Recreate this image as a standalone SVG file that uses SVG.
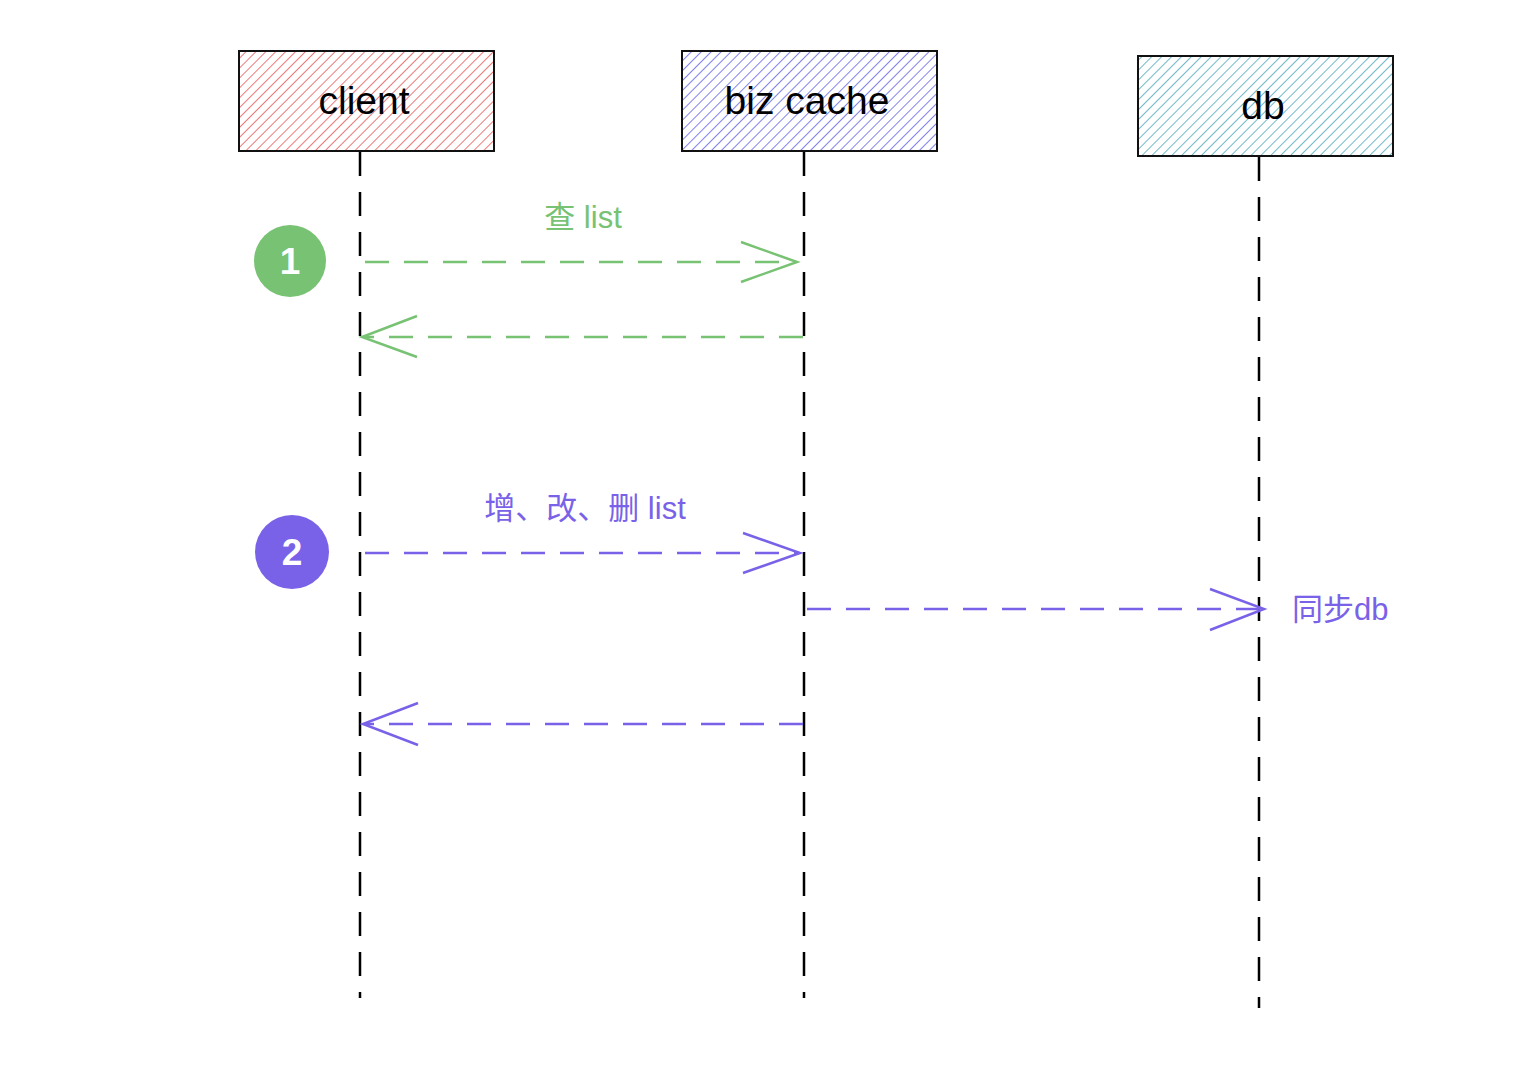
<svg xmlns="http://www.w3.org/2000/svg" width="1514" height="1068" viewBox="0 0 1514 1068">
<defs>
<pattern id="hatchRed" patternUnits="userSpaceOnUse" width="7" height="7" patternTransform="rotate(45)"><line x1="0" y1="0" x2="0" y2="7" stroke="#e03131" stroke-width="1.3"/></pattern>
<pattern id="hatchBlue" patternUnits="userSpaceOnUse" width="7" height="7" patternTransform="rotate(45)"><line x1="0" y1="0" x2="0" y2="7" stroke="#3b3fe0" stroke-width="1.3"/></pattern>
<pattern id="hatchTeal" patternUnits="userSpaceOnUse" width="7" height="7" patternTransform="rotate(45)"><line x1="0" y1="0" x2="0" y2="7" stroke="#2493aa" stroke-width="1.3"/></pattern>
</defs>
<style>
.box{stroke:#111;stroke-width:2}
.name{font-family:"Liberation Sans",Arial,sans-serif;font-size:39px;fill:#000;text-anchor:middle}
.life{stroke:#000;stroke-width:2.5;stroke-dasharray:24 16;fill:none}
.msg{fill:none;stroke-width:2.5;stroke-dasharray:24 15}
.head{fill:none;stroke-width:2.5}
.g{stroke:#78c273}
.p{stroke:#7a62e8}
.lbl{font-family:"Liberation Sans","Noto Sans CJK SC",sans-serif;font-size:31px}
.num{font-family:"Liberation Sans",Arial,sans-serif;font-size:37px;fill:#fff;text-anchor:middle;font-weight:bold}
</style>
<g id="client">
<rect x="239" y="51" width="255" height="100" fill="url(#hatchRed)" class="box"/>
<text x="364" y="114" class="name">client</text>
</g>
<g id="bizcache">
<rect x="682" y="51" width="255" height="100" fill="url(#hatchBlue)" class="box"/>
<text x="807" y="114" class="name">biz cache</text>
</g>
<g id="db">
<rect x="1138" y="56" width="255" height="100" fill="url(#hatchTeal)" class="box"/>
<text x="1263" y="119" class="name">db</text>
</g>
<g id="step1">
<circle cx="290" cy="261" r="36" fill="#78c273"/>
<text x="290" y="274" class="num">1</text>
</g>
<g id="step2">
<circle cx="292" cy="552" r="37" fill="#7a62e8"/>
<text x="292" y="565" class="num">2</text>
</g>
<g id="connectors">
<line x1="360" y1="152" x2="360" y2="998" class="life"/>
<line x1="804" y1="152" x2="804" y2="998" class="life"/>
<line x1="1259" y1="157" x2="1259" y2="1008" class="life"/>
<line x1="365" y1="262" x2="796" y2="262" class="msg g"/>
<polyline points="741,242 797,262 741,282" class="head g"/>
<text x="583" y="228" class="lbl" fill="#78c273" text-anchor="middle">查 list</text>
<line x1="803" y1="337" x2="364" y2="337" class="msg g"/>
<polyline points="417,316 362,337 417,357" class="head g"/>
<line x1="365" y1="553" x2="799" y2="553" class="msg p"/>
<polyline points="743,533 800,553 743,573" class="head p"/>
<text x="585" y="519" class="lbl" fill="#7a62e8" text-anchor="middle">增、改、删 list</text>
<line x1="807" y1="609" x2="1263" y2="609" class="msg p"/>
<polyline points="1210,589 1264,609 1210,630" class="head p"/>
<text x="1292" y="620" class="lbl" fill="#7a62e8">同步db</text>
<line x1="803" y1="724" x2="365" y2="724" class="msg p"/>
<polyline points="418,703 363,724 418,745" class="head p"/>
</g>
</svg>
